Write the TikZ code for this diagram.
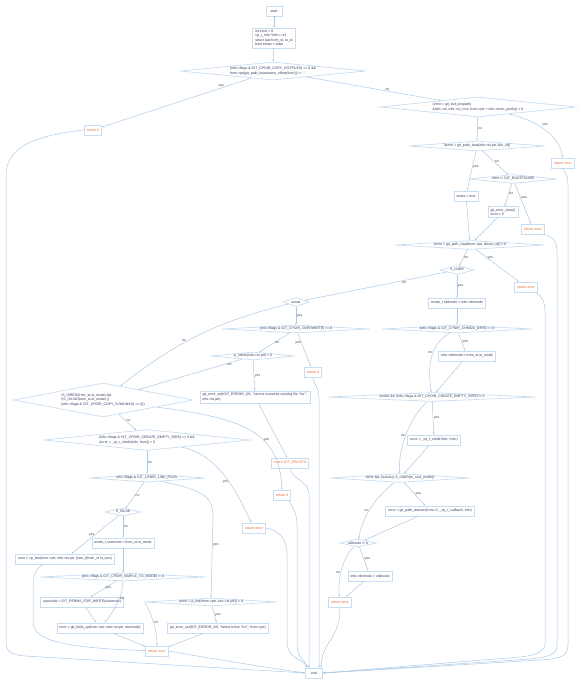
\documentclass[tikz,border=0pt]{standalone}
\usepackage{fontspec}
\setmainfont{Liberation Sans}
\usetikzlibrary{shapes.geometric,arrows.meta,calc}
\definecolor{bcol}{HTML}{C9DDF0}
\definecolor{ecol}{HTML}{A9C9E6}
\definecolor{tcol}{HTML}{33355F}
\definecolor{rcol}{HTML}{E8632B}
\definecolor{lcol}{HTML}{444444}
\tikzset{
  base/.style={font=\fontsize{3.5}{4.5}\selectfont, text=tcol, draw=bcol, line width=0.7pt, fill=white},
  box/.style={base, rectangle, align=left, inner xsep=2.5pt, inner ysep=2pt, minimum height=10pt},
  retbox/.style={box, text=rcol},
  dia/.style n args={3}{base, diamond, align=left, inner sep=0.3pt, aspect=#3, minimum width=#1pt, minimum height=#2pt},
  edge/.style={draw=ecol, line width=0.5pt, -{Stealth[length=2.2pt,width=1.8pt]}},
  lbl/.style={font=\fontsize{3.5}{4}\selectfont, text=lcol, inner sep=0.6pt},
}
\begin{document}
\begin{tikzpicture}[x=1pt,y=1pt]
\useasboundingbox (0,0) rectangle (582,-684);
% ---------- nodes ----------
\node[box,minimum width=16pt] (start) at (274,-11) {start};
\node[box] (init) at (274,-38) {int error = 0\\cp\_r\_info *info = ref\\struct stat from\_st, to\_st\\bool exists = false};
\node[dia={186}{18}{10.3}] (d1) at (273,-71) {(info->flags \& GIT\_CPDIR\_COPY\_DOTFILES) == 0 \&\&\\from->ptr[git\_path\_basename\_offset(from)] == '.'};
\node[retbox] (ret0a) at (93,-130) {return 0};
\node[dia={196}{20}{9.8}] (d2) at (478,-107) {(error = git\_buf\_joinpath(\\\&info->to, info->to\_root, from->ptr + info->from\_prefix)) < 0};
\node[retbox] (reterr1) at (563,-163) {return error};
\node[dia={137}{10}{13.7}] (d3) at (477,-146) {!(error = git\_path\_lstat(info->to.ptr, \&to\_st))};
\node[box] (extrue) at (466,-196) {exists = true};
\node[dia={88}{9}{9.8}] (d4) at (513,-179) {error != GIT\_ENOTFOUND};
\node[box] (clear) at (503,-212) {git\_error\_clear()\\error = 0};
\node[retbox] (reterr2) at (533,-229) {return error};
\node[dia={150}{9}{16.7}] (d5) at (470,-245) {(error = git\_path\_lstat(from->ptr, \&from\_st)) < 0};
\node[dia={34}{9}{3.8}] (d6) at (457,-270) {S\_ISDIR};
\node[retbox] (reterr3) at (526,-287) {return error};
\node[box] (oldmode) at (457,-303) {mode\_t oldmode = info->dirmode};
\node[dia={150}{8}{18.8}] (d7) at (457,-329) {(info->flags \& GIT\_CPDIR\_CHMOD\_DIRS) == 0};
\node[box] (dirmode1) at (467,-356) {info->dirmode = from\_st.st\_mode};
\node[dia={209}{9}{23}] (d8) at (432,-397) {!exists \&\& (info->flags \& GIT\_CPDIR\_CREATE\_EMPTY\_DIRS) != 0};
\node[box] (mkdir1) at (434,-440) {error = \_cp\_r\_mkdir(info, from)};
\node[dia={140}{9}{15.6}] (d9) at (400,-478) {!error \&\& (!exists || S\_ISDIR(to\_st.st\_mode))};
\node[box] (direach) at (430,-511) {error = git\_path\_direach(from, 0, \_cp\_r\_callback, info)};
\node[dia={37}{8}{4.6}] (d10) at (358,-543) {oldmode != 0};
\node[box] (dirmode2) at (370,-576) {info->dirmode = oldmode};
\node[retbox] (reterr4) at (340,-602) {return error};
\node[box,minimum width=17pt] (fin) at (314,-673) {end};
\node[dia={26}{9}{2.9}] (dex) at (296,-302) {exists};
\node[dia={148}{8}{18.5}] (dov) at (296,-329) {(info->flags \& GIT\_CPDIR\_OVERWRITE) == 0};
\node[retbox] (ret0b) at (313,-372) {return 0};
\node[dia={84}{8}{10.5}] (dul) at (253,-356) {p\_unlink(info->to.ptr) < 0};
\node[box] (errset1) at (255,-397) {git\_error\_set(GIT\_ERROR\_OS, "cannot overwrite existing file '\%s'",\\info->to.ptr)};
\node[retbox] (reteex) at (290,-463) {return GIT\_EEXISTS};
\node[dia={179}{34}{5.3}] (dbig) at (103,-400) {!S\_ISREG(from\_st.st\_mode) \&\&\\(!S\_ISLNK(from\_st.st\_mode) ||\\(info->flags \& GIT\_CPDIR\_COPY\_SYMLINKS) == 0))};
\node[retbox] (ret0c) at (282,-495) {return 0};
\node[dia={206}{21}{9.8}] (dce) at (147,-440) {(info->flags \& GIT\_CPDIR\_CREATE\_EMPTY\_DIRS) == 0 \&\&\\(error = \_cp\_r\_mkdir(info, from)) < 0};
\node[retbox] (reterr5) at (254,-528) {return error};
\node[dia={115}{8}{14.4}] (dlf) at (147,-478) {info->flags \& GIT\_CPDIR\_LINK\_FILES};
\node[dia={36}{8}{4.5}] (dsl) at (123,-512) {S\_ISLNK};
\node[box] (cplink) at (65,-559) {error = cp\_link(from->ptr, info->to.ptr, (size\_t)from\_st.st\_size)};
\node[box] (usemode) at (123,-543) {mode\_t usemode = from\_st.st\_mode};
\node[dia={166}{8}{20.8}] (dsm) at (123,-577) {(info->flags \& GIT\_CPDIR\_SIMPLE\_TO\_MODE) != 0};
\node[box] (perms) at (82,-602) {usemode = GIT\_PERMS\_FOR\_WRITE(usemode)};
\node[box] (fcp) at (100,-628) {error = git\_futils\_cp(from->ptr, info->to.ptr, usemode)};
\node[dia={132}{8}{16.5}] (dpl) at (211,-602) {(error = p\_link(from->ptr, info->to.ptr)) < 0};
\node[box] (errset2) at (218,-628) {git\_error\_set(GIT\_ERROR\_OS, "failed to link '\%s'", from->ptr)};
\node[retbox] (reterr6) at (157,-651) {return error};
% ---------- edges ----------
\draw[edge] (start) -- (init);
\draw[edge] (init) -- (d1);
\draw[edge] (d1) -- node[lbl,pos=0.2,above]{yes} (ret0a);
\draw[edge] (d1) -- node[lbl,pos=0.6,above]{no} (d2);
\draw[edge] (d2) -- node[lbl,right]{no} (d3);
\draw[edge] (d2) .. controls (535,-120) and (560,-135) .. node[lbl,pos=0.45,above right]{yes} (reterr1);
\draw[edge] (d3) -- node[lbl,pos=0.4,right]{yes} (extrue);
\draw[edge] (d3) -- node[lbl,pos=0.45,right]{no} (d4);
\draw[edge] (d4) -- node[lbl,pos=0.45,right]{no} (clear);
\draw[edge] (d4) -- node[lbl,pos=0.35,right]{yes} (reterr2);
\draw[edge] (extrue) -- (d5);
\draw[edge] (clear) -- (d5);
\draw[edge] (d5) -- node[lbl,pos=0.5,right]{no} (d6);
\draw[edge] (d5) -- node[lbl,pos=0.25,right]{yes} (reterr3);
\draw[edge] (d6) -- node[lbl,pos=0.5,right]{yes} (oldmode);
\draw[edge] (d6) -- node[lbl,pos=0.3,below]{no} (dex);
\draw[edge] (oldmode) -- (d7);
\draw[edge] (d7) -- node[lbl,pos=0.5,right]{yes} (dirmode1);
\draw[edge] (d7) .. controls (428,-345) and (428,-370) .. node[lbl,pos=0.4,left]{no} (d8);
\draw[edge] (dirmode1) -- (d8);
\draw[edge] (d8) -- node[lbl,pos=0.5,right]{yes} (mkdir1);
\draw[edge] (d8) .. controls (408,-420) and (398,-450) .. node[lbl,pos=0.5,left]{no} (d9);
\draw[edge] (mkdir1) -- (d9);
\draw[edge] (d9) -- node[lbl,pos=0.5,right]{yes} (direach);
\draw[edge] (d9) .. controls (372,-500) and (362,-520) .. node[lbl,pos=0.5,left]{no} (d10);
\draw[edge] (direach) -- (d10);
\draw[edge] (d10) -- node[lbl,pos=0.5,right]{yes} (dirmode2);
\draw[edge] (d10) .. controls (340,-560) and (338,-585) .. node[lbl,pos=0.5,left]{no} (reterr4);
\draw[edge] (dirmode2) -- (reterr4);
\draw[edge] (dex) -- node[lbl,pos=0.5,right]{yes} (dov);
\draw[edge] (dex) to[bend right=12] node[lbl,pos=0.6,above]{no} (dbig);
\draw[edge] (dov) -- node[lbl,pos=0.5,right]{no} (dul);
\draw[edge] (dov) -- node[lbl,pos=0.3,left]{yes} (ret0b);
\draw[edge] (dul) -- node[lbl,pos=0.5,right]{yes} (errset1);
\draw[edge] (dul) -- node[lbl,pos=0.12,below]{no} (dbig);
\draw[edge] (errset1) -- (reteex);
\draw[edge] (dbig) .. controls (240,-418) and (280,-430) .. node[lbl,pos=0.62,right]{yes} (ret0c);
\draw[edge] (dbig) -- node[lbl,pos=0.4,right]{no} (dce);
\draw[edge] (dce) .. controls (220,-455) and (238,-495) .. node[lbl,pos=0.55,left]{yes} (reterr5);
\draw[edge] (dce) -- node[lbl,pos=0.5,right]{no} (dlf);
\draw[edge] (dlf) -- node[lbl,pos=0.5,right]{no} (dsl);
\draw[edge] (dlf) .. controls (200,-490) and (213,-495) .. (213,-515) -- node[lbl,pos=0.36,right]{yes} (dpl);
\draw[edge] (dsl) -- node[lbl,pos=0.5,left]{yes} (cplink);
\draw[edge] (dsl) -- node[lbl,pos=0.5,right]{no} (usemode);
\draw[edge] (usemode) -- (dsm);
\draw[edge] (dsm) -- node[lbl,pos=0.45,right]{yes} (perms);
\draw[edge] (dsm) .. controls (123,-595) and (115,-610) .. node[lbl,pos=0.4,right]{no} (fcp);
\draw[edge] (perms) -- (fcp);
\draw[edge] (fcp) -- (reterr6);
\draw[edge] (dpl) -- node[lbl,pos=0.5,right]{yes} (errset2);
\draw[edge] (dpl.west) .. controls (152,-615) and (157,-630) .. node[lbl,pos=0.5,right]{no} (reterr6);
\draw[edge] (errset2) -- (reterr6);
\draw[edge] ([xshift=-22pt]cplink.south) .. controls (35,-570) and (33,-575) .. (33,-590) -- (33,-622) .. controls (33,-642) and (70,-648) .. (reterr6);
% ---------- returns to end ----------
\draw[edge] (ret0a.west) .. controls (40,-135) and (6,-145) .. (6,-175) -- (6,-642) .. controls (6,-652) and (12,-655) .. (25,-656) -- (fin.west);
\draw[edge] (reterr1.south) .. controls (563,-172) and (568,-172) .. (568,-185) -- (568,-645) .. controls (568,-656) and (560,-659) .. (540,-660) -- (fin.east);
\draw[edge] ([xshift=-2pt]reterr2.south east) .. controls (552,-236) and (557,-240) .. (557,-252) -- (557,-645) .. controls (557,-654) and (550,-657) .. (530,-659) -- (fin.east);
\draw[edge] ([xshift=-2pt]reterr3.south east) .. controls (541,-296) and (545,-300) .. (545,-312) -- (545,-643) .. controls (545,-651) and (538,-655) .. (520,-657) -- (fin.east);
\draw[edge] (ret0b.south) .. controls (313,-385) and (319,-385) .. (319,-398) -- ([xshift=5pt]fin.north);
\draw[edge] (reteex.south) .. controls (292,-480) and (309,-480) .. (309,-495) -- ([xshift=-5pt]fin.north);
\draw[edge] ([xshift=-2pt]ret0c.south east) .. controls (290,-505) and (297,-510) .. (297,-525) -- (297,-645) .. controls (297,-658) and (305,-660) .. ([xshift=-6pt]fin.north);
\draw[edge] (reterr5.east) .. controls (280,-530) and (287,-540) .. (287,-555) -- (287,-640) .. controls (287,-660) and (303,-658) .. ([xshift=-7pt]fin.north);
\draw[edge] (reterr4.south) .. controls (340,-640) and (322,-640) .. ([xshift=7pt]fin.north);
\draw[edge] (reterr6.east) .. controls (190,-655) and (250,-665) .. (fin.west);
\end{tikzpicture}
\end{document}
